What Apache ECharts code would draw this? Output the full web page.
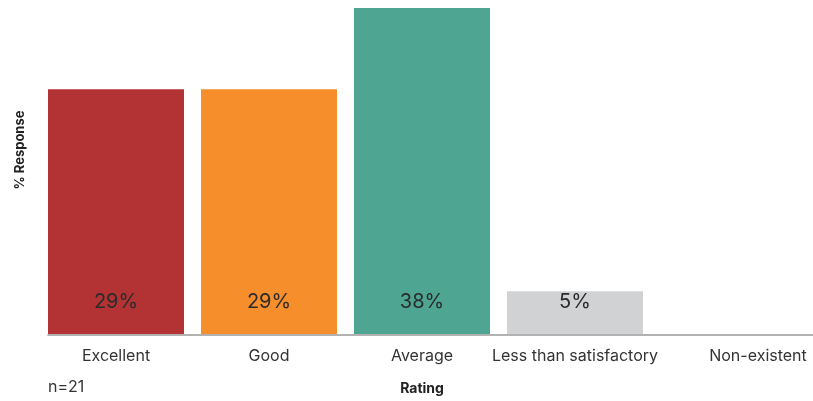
<!DOCTYPE html>
<html>
<head>
<meta charset="utf-8">
<script src="https://cdn.jsdelivr.net/npm/echarts@6/dist/echarts.min.js"></script>
<style>
html,body{margin:0;padding:0;background:#fff;}
#chart{width:813px;height:401px;}
</style>
</head>
<body>
<div id="chart"></div>
<script>
const categories = ['Excellent', 'Good', 'Average', 'Less than satisfactory', 'Non-existent'];
const values = [28.6, 28.6, 38.1, 5.0, 0];
const colors = ['#B33334', '#F68E2C', '#4DA592', '#D1D2D4', '#D1D2D4'];
const yAxisTitle = '% Response';
const xAxisTitle = 'Rating';
const note = 'n=21';

const FONT = 'Inter';
const chart = echarts.init(document.getElementById('chart'));
chart.setOption({
  animation: false,
  title: {
    text: note, left: 48, top: 379, padding: 0,
    textStyle: {fontFamily: FONT, fontSize: 16, fontWeight: 'normal', color: '#333'}
  },
  graphic: [{
    type: 'text', x: 20, y: 150, rotation: Math.PI / 2,
    style: {text: yAxisTitle, fontFamily: FONT, fontSize: 13, fontWeight: 'bold', fill: '#222',
      align: 'center', verticalAlign: 'middle'}
  }],
  grid: [
    {left: 39.5, right: 8.5, top: 8, bottom: 66.5},
    {left: 48, right: 0, top: 8, bottom: 66.5}
  ],
  xAxis: [{
    type: 'category', data: categories, gridIndex: 0,
    axisLine: {show: false}, axisTick: {show: false},
    axisLabel: {
      fontFamily: FONT, fontSize: 16, color: '#333', margin: 14, interval: 0,
      formatter: function (v) { return v === 'Non-existent' ? '{shift|' + v + '}' : v; },
      rich: {shift: {fontFamily: FONT, fontSize: 16, color: '#333', padding: [0, 0, 0, 60]}}
    },
    name: xAxisTitle, nameLocation: 'middle', nameGap: 48,
    nameTextStyle: {fontFamily: FONT, fontSize: 14, fontWeight: 'bold', color: '#222'}
  }, {
    type: 'category', data: categories, gridIndex: 1,
    axisLine: {show: true, lineStyle: {color: '#999', width: 1.5}},
    axisTick: {show: false}, axisLabel: {show: false}
  }],
  yAxis: [{
    type: 'value', gridIndex: 0, min: 0, max: 38.1,
    axisLine: {show: false}, axisTick: {show: false}, axisLabel: {show: false}, splitLine: {show: false}
  }, {
    type: 'value', gridIndex: 1, min: 0, max: 38.1, show: false
  }],
  series: [{
    type: 'bar', xAxisIndex: 0, yAxisIndex: 0,
    data: values.map((v, i) => ({value: v, itemStyle: {color: colors[i]}})),
    barCategoryGap: '11.1%',
    label: {
      show: true, position: 'insideBottom', distance: 22,
      fontFamily: FONT, fontSize: 20, color: '#2b2b2b',
      formatter: p => p.value > 0 ? Math.round(p.value) + '%' : ''
    }
  }]
});
</script>
</body>
</html>
